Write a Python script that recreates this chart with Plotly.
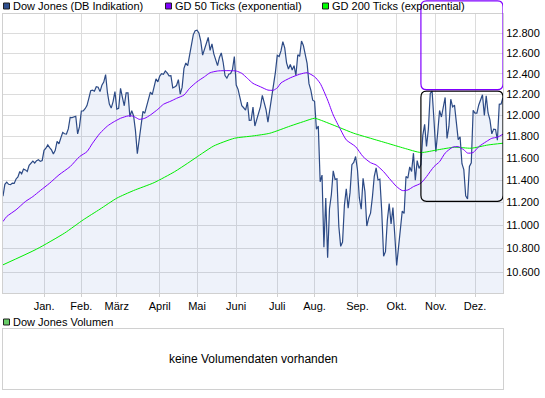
import math
import pandas as pd
import plotly.graph_objects as go

# ---------------- data ----------------
holidays = ["2010-12-24", "2011-01-17", "2011-02-21", "2011-04-22",
            "2011-05-30", "2011-07-04", "2011-09-05", "2011-11-24"]
trade_dates = [d for d in pd.bdate_range("2010-12-01", "2011-12-22").strftime("%Y-%m-%d")
               if d not in holidays]

dow_close = [
    # Dec 2010
    11256, 11362, 11382, 11362, 11359, 11372, 11370, 11410, 11429, 11477, 11457,
    11499, 11492, 11478, 11533, 11559, 11573, 11555, 11576, 11585, 11570, 11578,
    # Jan 2011
    11671, 11691, 11722, 11697, 11675, 11638, 11671, 11755, 11732, 11787,
    11837, 11825, 11823, 11871, 11980, 11977, 11985, 11990, 11824, 11892,
    # Feb
    12040, 12041, 12062, 12092, 12161, 12234, 12240, 12230, 12273, 12268,
    12226, 12288, 12318, 12391, 12213, 12106, 12068, 12130, 12226,
    # Mar
    12058, 12066, 12258, 12170, 12090, 12214, 12214, 11985, 12044, 11993, 11855,
    11640, 11775, 11858, 12037, 12019, 12086, 12171, 12221, 12198, 12280, 12350, 12320,
    # Apr
    12377, 12400, 12394, 12427, 12409, 12380, 12382, 12263, 12270, 12285,
    12342, 12202, 12267, 12453, 12506, 12479, 12595, 12691, 12790, 12830,
    # May
    12835, 12807, 12724, 12584, 12639, 12685, 12761, 12631, 12696, 12596, 12548,
    12480, 12561, 12606, 12513, 12382, 12357, 12395, 12403, 12442, 12570,
    # Jun
    12290, 12248, 12152, 12090, 12071, 12049, 12125, 11952, 11953, 12077, 11898,
    11962, 12004, 12081, 12190, 12110, 12050, 11934, 12043, 12188, 12262, 12414,
    # Jul
    12582, 12570, 12626, 12719, 12657, 12506, 12447, 12492, 12437, 12480,
    12385, 12587, 12572, 12725, 12681, 12593, 12502, 12303, 12241, 12143,
    # Aug
    12133, 11867, 11897, 11384, 11445, 10810, 11240, 10720, 11144, 11270, 11483, 11406,
    11411, 10991, 10818, 10855, 11177, 11321, 11150, 11285, 11540, 11560, 11614,
    # Sep
    11494, 11240, 11140, 11415, 11296, 10993, 11062, 11106, 11247, 11434, 11510,
    11401, 11408, 11125, 10734, 10772, 11044, 11191, 11011, 11154, 10913,
    # Oct
    10655, 10809, 10940, 11124, 11103, 11433, 11417, 11519, 11478, 11645, 11398,
    11577, 11505, 11541, 11809, 11913, 11707, 11869, 12209, 12232, 11955,
    # Nov
    11658, 11836, 12045, 11983, 12069, 12170, 11781, 11894, 12153, 12079, 12096,
    11906, 11771, 11796, 11548, 11494, 11258, 11231, 11524, 11556, 12046,
    # Dec
    12020, 12019, 12098, 12151, 12196, 11997, 12185, 12021, 11955, 11824,
    11869, 11866, 11766, 12104, 12108, 12169,
]
assert len(dow_close) == len(trade_dates)

ema50_dates = [
    "2010-12-01", "2010-12-03", "2010-12-10", "2010-12-17", "2010-12-23", "2010-12-30",
    "2011-01-06", "2011-01-13", "2011-01-24", "2011-01-31", "2011-02-04", "2011-02-09",
    "2011-02-15", "2011-02-22", "2011-02-25", "2011-03-03", "2011-03-09", "2011-03-11",
    "2011-03-15", "2011-03-17", "2011-03-22", "2011-03-25", "2011-03-31", "2011-04-05",
    "2011-04-11", "2011-04-14", "2011-04-20", "2011-04-26", "2011-05-02", "2011-05-06",
    "2011-05-11", "2011-05-17", "2011-05-20", "2011-05-26", "2011-06-01", "2011-06-06",
    "2011-06-09", "2011-06-14", "2011-06-20", "2011-06-24", "2011-06-29", "2011-07-01",
    "2011-07-06", "2011-07-13", "2011-07-20", "2011-07-26", "2011-08-01", "2011-08-04",
    "2011-08-10", "2011-08-15", "2011-08-19", "2011-08-24", "2011-08-31", "2011-09-07",
    "2011-09-13", "2011-09-16", "2011-09-22", "2011-09-27", "2011-10-03", "2011-10-06",
    "2011-10-11", "2011-10-14", "2011-10-20", "2011-10-25", "2011-10-31", "2011-11-03",
    "2011-11-08", "2011-11-14", "2011-11-17", "2011-11-22", "2011-11-25", "2011-11-30",
    "2011-12-05", "2011-12-09", "2011-12-14", "2011-12-19", "2011-12-22",
]
ema50_values = [
    11032, 11076, 11135, 11208, 11252, 11306,
    11372, 11447, 11522, 11613, 11659, 11737,
    11830, 11898, 11933, 11971, 11993, 11993,
    11980, 11961, 11971, 12002, 12056, 12104,
    12135, 12161, 12193, 12258, 12322, 12371,
    12410, 12427, 12430, 12430, 12427, 12404,
    12355, 12306, 12273, 12241, 12240, 12262,
    12310, 12360, 12395, 12410, 12371, 12306,
    12145, 12002, 11861, 11768, 11705, 11613,
    11558, 11537, 11476, 11416, 11341, 11306,
    11311, 11341, 11372, 11431, 11522, 11567,
    11646, 11700, 11705, 11676, 11646, 11651,
    11705, 11752, 11783, 11793, 11821,
]

ema200_dates = [
    "2010-12-01", "2010-12-28", "2011-01-19", "2011-02-02", "2011-02-15", "2011-03-01",
    "2011-03-14", "2011-03-29", "2011-04-13", "2011-04-25", "2011-05-05", "2011-05-13",
    "2011-05-31", "2011-06-14", "2011-06-27", "2011-07-13", "2011-07-22", "2011-08-01",
    "2011-08-04", "2011-08-18", "2011-08-30", "2011-09-13", "2011-09-26", "2011-10-07",
    "2011-10-20", "2011-11-02", "2011-11-15", "2011-11-29", "2011-12-12", "2011-12-22",
]
ema200_values = [
    10661, 10794, 10932, 11047, 11141, 11238,
    11306, 11377, 11476, 11553, 11646, 11712,
    11783, 11805, 11830, 11898, 11939, 11971,
    11955, 11886, 11830, 11783, 11737, 11691,
    11651, 11676, 11700, 11691, 11721, 11737,
]

month_tick_dates = ["2011-01-03", "2011-02-01", "2011-03-01", "2011-04-01", "2011-05-02",
                    "2011-06-01", "2011-07-01", "2011-08-01", "2011-09-01", "2011-10-03",
                    "2011-11-01", "2011-12-01"]
month_labels = ["Jan.", "Feb.", "März", "April", "Mai", "Juni", "Juli", "Aug.",
                "Sep.", "Okt.", "Nov.", "Dez."]
price_ticks = [10600, 10800, 11000, 11200, 11400, 11600, 11800, 12000,
               12200, 12400, 12600, 12800]

# trading-range boxes
range_start = "2011-10-20"
range_high = 12230
range_low = 11210
target_top = 13135

y_min, y_max = 10426, 13000

# ---------------- layout geometry ----------------
W, H = 545, 398
M_L, M_R, M_T, M_B = 3, 42, 14, 9
PW, PH = W - M_L - M_R, H - M_T - M_B
MAIN_BOTTOM_PX = 293
VOL_TOP_PX = 329
main_dom = [(H - M_B - MAIN_BOTTOM_PX) / PH, 1.0]
vol_dom = [0.0, (H - M_B - VOL_TOP_PX) / PH]


def px_x(px):
    return (px - M_L) / PW


def px_y(py):
    return (H - M_B - py) / PH


main_h_px = (main_dom[1] - main_dom[0]) * PH
px_per_decade = main_h_px / (math.log10(y_max) - math.log10(y_min))


def val_to_paper(v):
    return main_dom[0] + (math.log10(v) - math.log10(y_min)) / (
        math.log10(y_max) - math.log10(y_min)) * (main_dom[1] - main_dom[0])


FONT = "Liberation Sans, Arial, sans-serif"
DOW_COL = "#2c4a85"
EMA50_COL = "#8000ff"
EMA200_COL = "#00ee00"
GRID = "#dcdcdc"
FRAME = "#d0d0d0"

fig = go.Figure()
fig.add_trace(go.Scatter(x=trade_dates, y=dow_close, mode="lines",
                         line=dict(color=DOW_COL, width=1.2),
                         fill="tozeroy", fillcolor="rgba(60,100,200,0.085)",
                         name="Dow Jones (DB Indikation)"))
fig.add_trace(go.Scatter(x=ema200_dates, y=ema200_values, mode="lines",
                         line=dict(color=EMA200_COL, width=1, shape="spline", smoothing=0.6),
                         name="GD 200 Ticks (exponential)"))
fig.add_trace(go.Scatter(x=ema50_dates, y=ema50_values, mode="lines",
                         line=dict(color=EMA50_COL, width=1, shape="spline", smoothing=0.6),
                         name="GD 50 Ticks (exponential)"))
fig.add_trace(go.Scatter(x=[], y=[], xaxis="x2", yaxis="y2", showlegend=False))

# ---------------- shapes ----------------
shapes = []
idx0 = trade_dates.index(range_start)
x0, x1 = trade_dates[idx0], trade_dates[-1]
xa, xb = trade_dates[idx0 + 3], trade_dates[-4]
k = 10 ** (6 / px_per_decade)
hi, lo = range_high, range_low
black_path = (f"M {xa},{hi} L {xb},{hi} Q {x1},{hi} {x1},{hi / k} L {x1},{lo * k} "
              f"Q {x1},{lo} {xb},{lo} L {xa},{lo} Q {x0},{lo} {x0},{lo * k} "
              f"L {x0},{hi / k} Q {x0},{hi} {xa},{hi} Z")
shapes.append(dict(type="path", xref="x", yref="y", path=black_path,
                   line=dict(color="black", width=1.2), layer="above"))

pb = val_to_paper(range_high) + 1.5 / PH
pt = val_to_paper(target_top)
rp = 6 / PH
purple_path = (f"M {xa},{pt} L {xb},{pt} Q {x1},{pt} {x1},{pt - rp} L {x1},{pb + rp} "
               f"Q {x1},{pb} {xb},{pb} L {xa},{pb} Q {x0},{pb} {x0},{pb + rp} "
               f"L {x0},{pt - rp} Q {x0},{pt} {xa},{pt} Z")
shapes.append(dict(type="path", xref="x", yref="paper", path=purple_path,
                   line=dict(color=EMA50_COL, width=1.2), layer="above"))

# legend swatches
legend_items = [
    ("Dow Jones (DB Indikation)", "#2f4f8f", 3, 10.5, 6),
    ("GD 50 Ticks (exponential)", EMA50_COL, 165, 172.5, 6),
    ("GD 200 Ticks (exponential)", "#00ff00", 322, 329.5, 6),
    ("Dow Jones Volumen", "#66cc66", 3, 10.5, 322),
]
annotations = []
for text, col, sx, tx, cy in legend_items:
    shapes.append(dict(type="rect", xref="paper", yref="paper",
                       x0=px_x(sx + 0.5), x1=px_x(sx + 6.5), y0=px_y(cy + 3), y1=px_y(cy - 3),
                       fillcolor=col, line=dict(color="#202020", width=1)))
    annotations.append(dict(text=text, xref="paper", yref="paper", x=px_x(tx), y=px_y(cy),
                            xanchor="left", yanchor="middle", showarrow=False,
                            font=dict(family=FONT, size=11, color="black")))

annotations.append(dict(text="keine Volumendaten vorhanden", xref="x2 domain", yref="y2 domain",
                        x=0.5, y=0.5, xanchor="center", yanchor="middle", showarrow=False,
                        font=dict(family=FONT, size=12, color="black")))

fig.update_layout(
    width=W, height=H,
    margin=dict(l=M_L, r=M_R, t=M_T, b=M_B, autoexpand=False),
    paper_bgcolor="white", plot_bgcolor="white",
    separators=",.",
    showlegend=False,
    font=dict(family=FONT, size=11, color="black"),
    xaxis=dict(
        type="date", domain=[0, 1], anchor="y",
        range=[trade_dates[0], trade_dates[-1]],
        rangebreaks=[dict(bounds=["sat", "mon"]), dict(values=holidays)],
        tickvals=month_tick_dates, ticktext=month_labels,
        ticks="outside", ticklen=3, tickcolor=FRAME,
        showgrid=True, gridcolor=GRID, gridwidth=1,
        showline=True, linecolor=FRAME, mirror=True, zeroline=False,
        tickfont=dict(family=FONT, size=11, color="black"),
    ),
    yaxis=dict(
        type="log", domain=main_dom, anchor="x", side="right",
        range=[math.log10(y_min), math.log10(y_max)],
        tickvals=price_ticks, tickformat=",.0f",
        ticks="", showgrid=True, gridcolor=GRID, gridwidth=1,
        showline=True, linecolor=FRAME, mirror=True, zeroline=False,
        tickfont=dict(family=FONT, size=11, color="black"),
    ),
    xaxis2=dict(domain=[0, 1], anchor="y2", range=[0, 1], showgrid=False, zeroline=False,
                showticklabels=False, ticks="", showline=True, linecolor=FRAME, mirror=True),
    yaxis2=dict(domain=vol_dom, anchor="x2", range=[0, 1], showgrid=False, zeroline=False,
                showticklabels=False, ticks="", showline=True, linecolor=FRAME, mirror=True),
    shapes=shapes,
    annotations=annotations,
)

fig.write_html("out.html",
               config={"displayModeBar": False},
               post_script="document.body.style.margin='0';document.body.style.padding='0';")
